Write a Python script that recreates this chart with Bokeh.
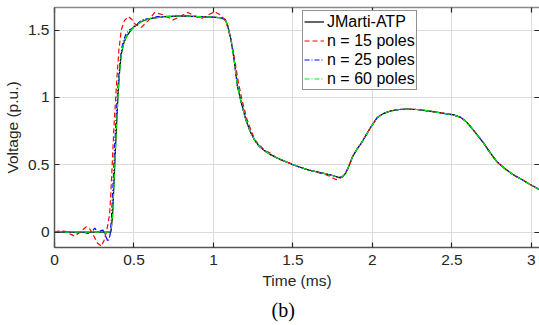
from bokeh.plotting import figure
from bokeh.models import (Range1d, LinearAxis, FixedTicker, Legend, LegendItem, Title,
                          CustomJSTickFormatter)
from bokeh.embed import file_html
from bokeh.resources import INLINE

# ---------------- data ----------------
t_ref = [0, 0.1, 0.2, 0.3, 0.355, 0.365, 0.372, 0.38, 0.39, 0.40, 0.41, 0.42,
         0.435, 0.45, 0.475, 0.5, 0.55, 0.6, 0.7, 0.8, 0.9, 1.0, 1.05, 1.075,
         1.09, 1.11, 1.13, 1.15, 1.175, 1.205, 1.23, 1.26, 1.29, 1.32, 1.36,
         1.40, 1.45, 1.5, 1.55, 1.6, 1.68, 1.75, 1.79, 1.81, 1.83, 1.845, 1.86,
         1.875, 1.9, 1.93, 1.96, 1.99, 2.03, 2.07, 2.115, 2.17, 2.22, 2.28,
         2.35, 2.43, 2.51, 2.555, 2.59, 2.62, 2.66, 2.70, 2.74, 2.785, 2.84,
         2.89, 2.94, 2.99, 3.06]
v_ref = [0, 0, 0, 0, 0, 0.12, 0.3, 0.52, 0.78, 1.03, 1.2, 1.32,
         1.40, 1.445, 1.49, 1.525, 1.565, 1.585, 1.6, 1.605, 1.60, 1.595, 1.59, 1.575,
         1.53, 1.43, 1.28, 1.09, 0.96, 0.83, 0.75, 0.68, 0.635, 0.605, 0.575,
         0.55, 0.525, 0.5, 0.48, 0.46, 0.44, 0.42, 0.405, 0.41, 0.435, 0.47, 0.515,
         0.56, 0.61, 0.66, 0.72, 0.78, 0.85, 0.88, 0.90, 0.91, 0.913, 0.91,
         0.90, 0.885, 0.87, 0.852, 0.82, 0.78, 0.72, 0.66, 0.59, 0.52, 0.465,
         0.423, 0.39, 0.355, 0.31]

t_15 = [0, 0.03, 0.07, 0.1, 0.128, 0.16, 0.2, 0.225, 0.243, 0.27, 0.295, 0.312,
        0.326, 0.338, 0.347, 0.355, 0.365, 0.375, 0.39, 0.405, 0.42, 0.44, 0.463,
        0.485, 0.51, 0.546, 0.59, 0.63, 0.69, 0.745, 0.79, 0.839, 0.88, 0.923,
        0.965, 1.006, 1.04, 1.07, 1.09, 1.115, 1.135, 1.155, 1.18, 1.21, 1.235,
        1.26, 1.29, 1.32, 1.36, 1.40, 1.45, 1.5, 1.55, 1.6, 1.65, 1.7, 1.74, 1.77,
        1.79, 1.81, 1.83, 1.845, 1.86, 1.875, 1.9, 1.93, 1.96, 1.99, 2.03, 2.07,
        2.115, 2.17, 2.22, 2.28, 2.35, 2.43, 2.51, 2.555, 2.59, 2.62, 2.66, 2.70,
        2.74, 2.785, 2.84, 2.89, 2.94, 2.99, 3.06]
v_15 = [0, 0.01, 0.005, -0.015, -0.03, 0.0, 0.04, 0.02, -0.02, -0.08, -0.105, -0.06,
        0.0, 0.07, 0.14, 0.3, 0.55, 0.8, 1.1, 1.35, 1.5, 1.57, 1.6,
        1.58, 1.54, 1.52, 1.57, 1.63, 1.61, 1.575, 1.6, 1.63, 1.605, 1.585,
        1.61, 1.635, 1.615, 1.58, 1.52, 1.40, 1.27, 1.12, 0.98, 0.84, 0.76,
        0.685, 0.645, 0.61, 0.585, 0.548, 0.525, 0.505, 0.478, 0.462, 0.445, 0.43, 0.41, 0.39,
        0.395, 0.41, 0.435, 0.47, 0.515, 0.56, 0.61, 0.66, 0.72, 0.78, 0.85, 0.88,
        0.90, 0.91, 0.913, 0.91, 0.90, 0.885, 0.87, 0.852, 0.82, 0.78, 0.72, 0.66,
        0.59, 0.52, 0.465, 0.423, 0.39, 0.355, 0.31]

t_25 = [0, 0.1, 0.15, 0.18, 0.21, 0.235, 0.253, 0.275, 0.29, 0.305, 0.322, 0.337,
        0.35, 0.358, 0.368, 0.378, 0.39, 0.40, 0.415, 0.43, 0.45, 0.47, 0.5, 0.53,
        0.56, 0.6, 0.65, 0.7, 0.8, 0.9, 1.0, 1.05, 1.075,
        1.09, 1.11, 1.13, 1.15, 1.175, 1.205, 1.23, 1.26, 1.29, 1.32, 1.36,
        1.40, 1.45, 1.5, 1.55, 1.6, 1.68, 1.75, 1.79, 1.81, 1.83, 1.845, 1.86,
        1.875, 1.9, 1.93, 1.96, 1.99, 2.03, 2.07, 2.115, 2.17, 2.22, 2.28,
        2.35, 2.43, 2.51, 2.555, 2.59, 2.62, 2.66, 2.70, 2.74, 2.785, 2.84,
        2.89, 2.94, 2.99, 3.06]
v_25 = [0, 0.0, -0.005, 0.0, -0.01, 0.0, 0.03, 0.0, 0.01, 0.015, -0.03, -0.07,
        -0.02, 0.1, 0.35, 0.62, 0.9, 1.1, 1.3, 1.41, 1.47, 1.5, 1.52, 1.555,
        1.58, 1.585, 1.6, 1.6, 1.605, 1.60, 1.595, 1.59, 1.575,
        1.53, 1.43, 1.28, 1.09, 0.96, 0.83, 0.75, 0.68, 0.635, 0.605, 0.575,
        0.55, 0.525, 0.5, 0.48, 0.46, 0.44, 0.42, 0.405, 0.41, 0.435, 0.47, 0.515,
        0.56, 0.61, 0.66, 0.72, 0.78, 0.85, 0.88, 0.90, 0.91, 0.913, 0.91,
        0.90, 0.885, 0.87, 0.852, 0.82, 0.78, 0.72, 0.66, 0.59, 0.52, 0.465,
        0.423, 0.39, 0.355, 0.31]

t_60 = t_ref
v_60 = v_ref

x_ticks = [0, 0.5, 1, 1.5, 2, 2.5, 3]
x_tick_labels = ["0", "0.5", "1", "1.5", "2", "2.5", "3"]
y_ticks = [0, 0.5, 1, 1.5]
y_tick_labels = ["0", "0.5", "1", "1.5"]

series_names = ["JMarti-ATP", "n = 15 poles", "n = 25 poles", "n = 60 poles"]
series_colors = ["black", "#ff0000", "#0000ff", "#00ee00"]
series_dashes = ["solid", "5 3", "5 2 1 2", "5 2 1 2"]

# ---------------- figure ----------------
AX = "#262626"
AXLINE = "#555555"
FONT = "Liberation Sans"

p = figure(width=539, height=325, output_backend="svg", toolbar_location=None,
           x_range=Range1d(0, 3.051), y_range=Range1d(-0.114, 1.667),
           min_border_left=53, min_border_right=0, min_border_top=7,
           min_border_bottom=10)
p.background_fill_color = "white"
p.border_fill_color = "white"
p.outline_line_color = None

def style_axis(ax, labels, ticks, show_labels=True):
    ax.ticker = FixedTicker(ticks=ticks)
    ax.axis_line_color = AXLINE
    ax.axis_line_width = 1.5
    ax.major_tick_line_color = AX
    ax.major_tick_line_width = 1.2
    ax.major_tick_in = 5
    ax.major_tick_out = 0
    ax.minor_tick_in = 0
    ax.minor_tick_out = 0
    ax.major_label_text_font = FONT
    ax.major_label_text_color = AX
    if show_labels:
        ax.major_label_overrides = {k: v for k, v in zip(ticks, labels)}
        ax.major_label_text_font_size = "15.5px"
    else:
        ax.formatter = CustomJSTickFormatter(code="return ''")
        ax.major_label_text_font_size = "1px"
        ax.major_label_standoff = 0

style_axis(p.xaxis[0], x_tick_labels, x_ticks)
style_axis(p.yaxis[0], y_tick_labels, y_ticks)
p.xaxis[0].major_label_standoff = 7
p.yaxis[0].major_label_standoff = 5
p.xaxis[0].axis_label = "Time (ms)"
p.yaxis[0].axis_label = "Voltage (p.u.)"
for ax in (p.xaxis[0], p.yaxis[0]):
    ax.axis_label_text_font = FONT
    ax.axis_label_text_font_size = "15.5px"
    ax.axis_label_text_font_style = "normal"
    ax.axis_label_text_color = AX
p.xaxis[0].axis_label_standoff = 4
p.yaxis[0].axis_label_standoff = 4

top_ax = LinearAxis()
right_ax = LinearAxis()
style_axis(top_ax, x_tick_labels, x_ticks, show_labels=False)
style_axis(right_ax, y_tick_labels, y_ticks, show_labels=False)
top_ax.axis_line_color = "#8a8a8a"
right_ax.axis_line_color = None
p.add_layout(top_ax, "above")
p.add_layout(right_ax, "right")

p.xgrid.ticker = FixedTicker(ticks=x_ticks)
p.ygrid.ticker = FixedTicker(ticks=y_ticks)
for g in (p.xgrid[0], p.ygrid[0]):
    g.grid_line_color = "#dcdcdc"
    g.grid_line_width = 1

xs = [t_ref, t_15, t_25, t_60]
ys = [v_ref, v_15, v_25, v_60]
renderers = []
for x, y, c, d in zip(xs, ys, series_colors, series_dashes):
    renderers.append(p.line(x, y, line_color=c, line_width=1.2, line_dash=d))

legend = Legend(items=[LegendItem(label=n, renderers=[r]) for n, r in
                       zip(series_names, renderers)],
                location=(248, 157))
legend.label_text_font = FONT
legend.label_text_font_size = "16px"
legend.label_text_color = "black"
legend.label_height = 19
legend.glyph_height = 19
legend.glyph_width = 20
legend.label_standoff = 3
legend.spacing = 0
legend.padding = 1
legend.margin = 0
legend.border_line_color = AX
legend.border_line_width = 1
legend.background_fill_color = "white"
legend.background_fill_alpha = 1
p.add_layout(legend, "center")

cap = Title(text="(b)", align="left", text_font="Liberation Serif",
            text_font_size="20px", text_font_style="normal", text_color="black",
            offset=217)
p.add_layout(cap, "below")

open("out.html", "w").write(file_html(p, INLINE))
